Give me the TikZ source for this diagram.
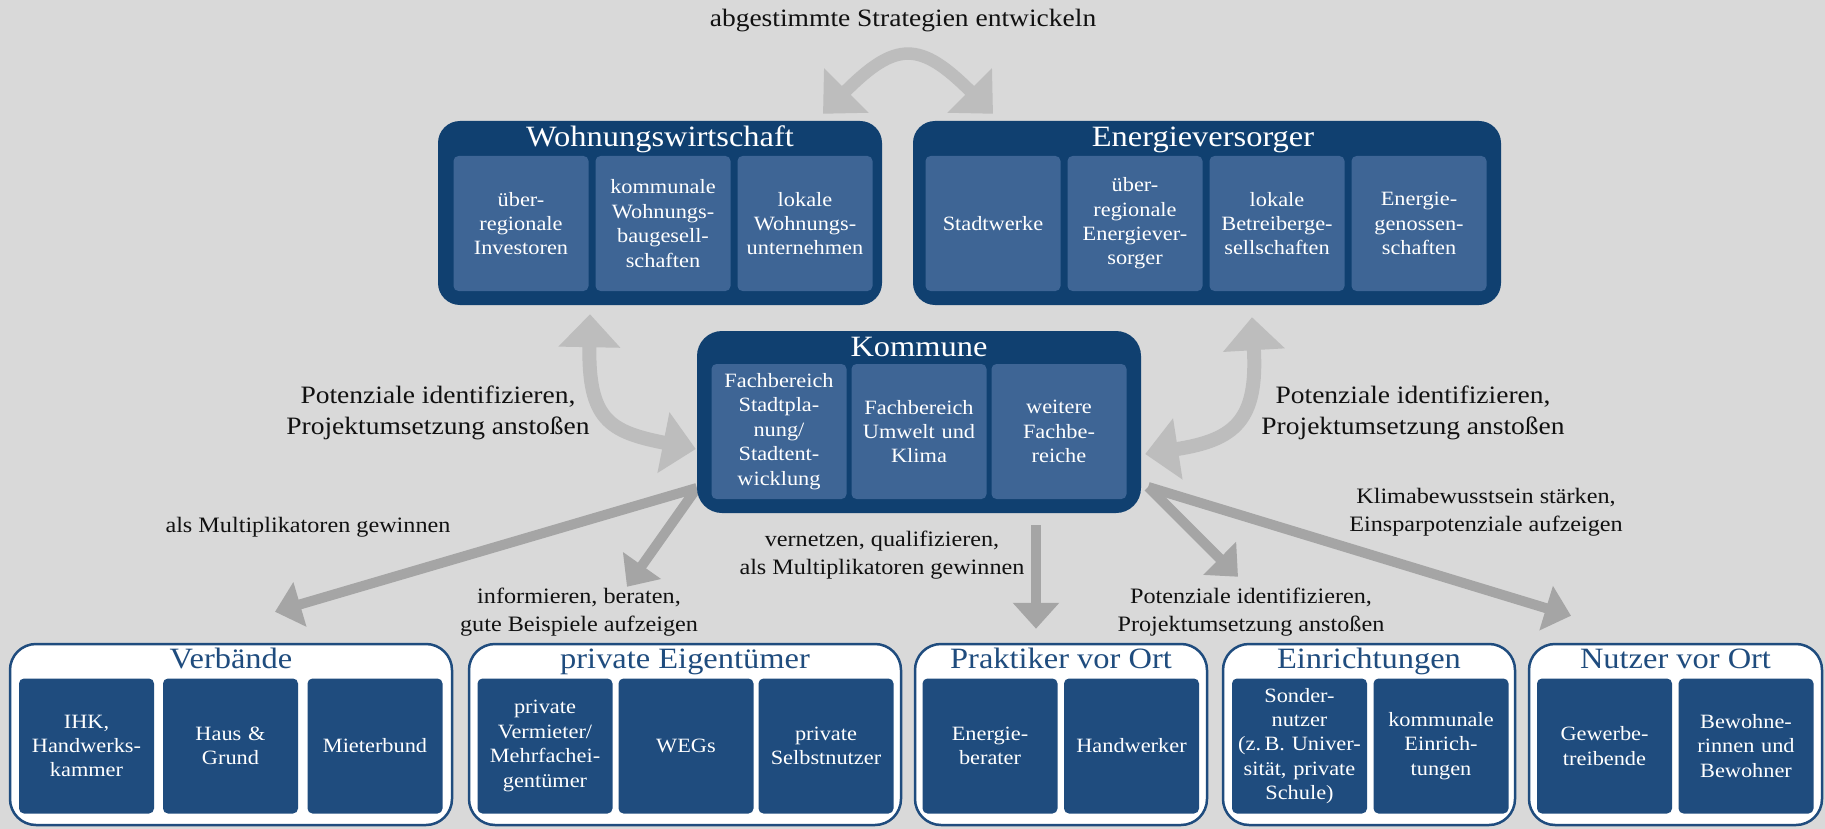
\documentclass[tikz,border=0pt]{standalone}
\usepackage{fontspec}
\setmainfont{Liberation Serif}[FakeStretch=1.1]
\usetikzlibrary{arrows.meta,calc}
\definecolor{bgc}{RGB}{217,217,217}
\definecolor{navy}{RGB}{16,64,112}
\definecolor{topin}{RGB}{62,101,149}
\definecolor{botin}{RGB}{31,76,126}
\definecolor{arrA}{RGB}{189,189,189}
\definecolor{arrB}{RGB}{165,165,165}
\definecolor{lbl}{RGB}{17,17,17}
\pgfdeclarelayer{backlayer}
\pgfdeclarelayer{arrowlayer}
\pgfsetlayers{backlayer,arrowlayer,main}
\begin{document}
\begin{tikzpicture}[x=1pt,y=-1pt,
  darkbox/.style={fill=navy, draw=none, rounded corners=22pt, inner sep=0pt},
  lightbox/.style={fill=white, draw=botin, line width=2.5pt, rounded corners=26pt, inner sep=0pt},
  cell/.style={minimum width=135pt, minimum height=135pt, text width=131pt, align=center,
    inner sep=0pt, rounded corners=5pt, text=white, font=\fontsize{20.3}{24.4}\selectfont},
  topcell/.style={cell, fill=topin},
  botcell/.style={cell, fill=botin},
  ttl/.style={anchor=base, inner sep=0pt, font=\fontsize{29.5}{32}\selectfont},
  lab/.style={align=center, text=lbl, inner sep=0pt, font=\fontsize{25}{31.6}\selectfont},
  labsm/.style={align=center, text=lbl, inner sep=0pt, font=\fontsize{22}{28.5}\selectfont},
  bigarr/.style={draw=arrA, line width=14pt,
    arrows={Triangle[width=60pt,length=33pt]-Triangle[width=60pt,length=33pt]}},
  arcarr/.style={draw=arrA, line width=12.5pt,
    arrows={Triangle[width=61pt,length=33pt]-Triangle[width=61pt,length=33pt]}},
  strarr/.style={draw=arrB, line width=10pt, arrows={-Triangle[width=45pt,length=26pt]}}
]
\useasboundingbox (0,0) rectangle (1825,829);
\begin{pgfonlayer}{backlayer}
\fill[bgc] (0,0) rectangle (1825,829);
\end{pgfonlayer}

% ---------- top boxes ----------
\node[darkbox, minimum width=444pt, minimum height=184pt] (ww) at (660,213) {};
\node[ttl, text=white] (wwt) at ($(ww.north)+(0,26)$) {Wohnungswirtschaft};
\node[topcell] (w1) at (521,223.5) {über-\\regionale\\Investoren};
\node[topcell] (w2) at (663,223.5) {kommunale\\Wohnungs-\\baugesell-\\schaften};
\node[topcell] (w3) at (805,223.5) {lokale\\Wohnungs-\\unternehmen};

\node[darkbox, minimum width=588pt, minimum height=184pt] (ev) at (1207,213) {};
\node[ttl, text=white] (evt) at ($(ev.north)+(-4,26)$) {Energieversorger};
\node[topcell] (e1) at (993,223.5) {Stadtwerke};
\node[topcell] (e2) at (1135,223.5) {über-\\regionale\\Energiever-\\sorger};
\node[topcell] (e3) at (1277,223.5) {lokale\\Betreiberge-\\sellschaften};
\node[topcell] (e4) at (1419,223.5) {Energie-\\genossen-\\schaften};

% ---------- Kommune ----------
\node[darkbox, rounded corners=25pt, minimum width=444pt, minimum height=182pt] (kom) at (919,422) {};
\node[ttl, text=white] (komt) at ($(kom.north)+(0,26)$) {Kommune};
\node[topcell] (k1) at (779,431.5) {Fachbereich\\Stadtpla-\\nung/\\Stadtent-\\wicklung};
\node[topcell] (k2) at (919,431.5) {Fachbereich\\Umwelt und\\Klima};
\node[topcell] (k3) at (1059,431.5) {weitere\\Fachbe-\\reiche};

% ---------- bottom boxes ----------
\node[lightbox, minimum width=442pt, minimum height=181pt] (verb) at (231,734.5) {};
\node[ttl, text=botin] (verbt) at ($(verb.north)+(0,26)$) {Verbände};
\node[botcell] (v1) at (86.5,746) {IHK,\\Handwerks-\\kammer};
\node[botcell] (v2) at (230.5,746) {Haus \&\\Grund};
\node[botcell] (v3) at (375,746) {Mieterbund};

\node[lightbox, minimum width=432pt, minimum height=181pt] (priv) at (685,734.5) {};
\node[ttl, text=botin] (privt) at ($(priv.north)+(0,26)$) {private Eigentümer};
\node[botcell] (p1) at (545,746) {private\\Vermieter/\\Mehrfachei-\\gentümer};
\node[botcell] (p2) at (686,746) {WEGs};
\node[botcell] (p3) at (826,746) {private\\Selbstnutzer};

\node[lightbox, minimum width=292pt, minimum height=181pt] (prak) at (1061,734.5) {};
\node[ttl, text=botin] (prakt) at ($(prak.north)+(0,26)$) {Praktiker vor Ort};
\node[botcell] (r1) at (990,746) {Energie-\\berater};
\node[botcell] (r2) at (1131.5,746) {Handwerker};

\node[lightbox, minimum width=292pt, minimum height=181pt] (einr) at (1369,734.5) {};
\node[ttl, text=botin] (einrt) at ($(einr.north)+(0,26)$) {Einrichtungen};
\node[botcell] (n1) at (1299.5,746) {Sonder-\\nutzer\\(z.\,B. Univer-\\sität, private\\Schule)};
\node[botcell] (n2) at (1441,746) {kommunale\\Einrich-\\tungen};

\node[lightbox, minimum width=293pt, minimum height=181pt] (nutz) at (1675.5,734.5) {};
\node[ttl, text=botin] (nutzt) at ($(nutz.north)+(0,26)$) {Nutzer vor Ort};
\node[botcell] (u1) at (1604.5,746) {Gewerbe-\\treibende};
\node[botcell] (u2) at (1746,746) {Bewohne-\\rinnen und\\Bewohner};

% ---------- labels ----------
\node[lab] (l1) at (903,21) {abgestimmte Strategien entwickeln};
\node[lab] (l2) at (438,413) {Potenziale identifizieren,\\Projektumsetzung anstoßen};
\node[lab] (l3) at (1413,413) {Potenziale identifizieren,\\Projektumsetzung anstoßen};
\node[labsm] (l4) at (308,527) {als Multiplikatoren gewinnen};
\node[labsm] (l5) at (579,612) {informieren, beraten,\\gute Beispiele aufzeigen};
\node[labsm] (l6) at (882,555) {vernetzen, qualifizieren,\\als Multiplikatoren gewinnen};
\node[labsm] (l7) at (1251,612) {Potenziale identifizieren,\\Projektumsetzung anstoßen};
\node[labsm] (l8) at (1486,512) {Klimabewusstsein stärken,\\Einsparpotenziale aufzeigen};

% ---------- connector end points ----------
\coordinate (arcL) at ($(ww.north)+(163,-7)$);
\coordinate (arcR) at ($(ev.north)+(-214,-7)$);
\coordinate (cwL) at ($(ww.south)+(-70,9)$);
\coordinate (ckL) at ($(kom.west)+(-1,27)$);
\coordinate (cwR) at ($(ev.south)+(45,12)$);
\coordinate (ckR) at ($(kom.east)+(4,32)$);
\coordinate (sL) at ($(kom.west)+(0,66)$);
\coordinate (sR) at ($(kom.east)+(7,65)$);
\coordinate (sD) at ($(kom.south)+(117,12)$);
\coordinate (tV) at ($(verb.north)+(44,-31)$);
\coordinate (tP) at ($(priv.north)+(-58,-56)$);
\coordinate (tK) at ($(prak.north)+(-25,-14)$);
\coordinate (tE) at ($(einr.north)+(-131,-66)$);
\coordinate (tN) at ($(nutz.north)+(-104.5,-27)$);

% ---------- arrows ----------
\begin{pgfonlayer}{arrowlayer}
\draw[arcarr] (arcL) .. controls ($(arcL)+(73,-73)$) and ($(arcR)+(-73,-73)$) .. (arcR);
\draw[bigarr] (cwL) .. controls ($(cwL)+(-2,106)$) and ($(ckL)+(-86,-17)$) .. (ckL);
\draw[bigarr] (cwR) .. controls ($(cwR)+(6,103)$) and ($(ckR)+(90,-14)$) .. (ckR);
\draw[strarr] (sL) -- (tV);
\draw[strarr] (sL) -- (tP);
\draw[strarr] (sD) -- (tK);
\draw[strarr] (sR) -- (tE);
\draw[strarr] (sR) -- (tN);
\end{pgfonlayer}
\end{tikzpicture}
\end{document}
